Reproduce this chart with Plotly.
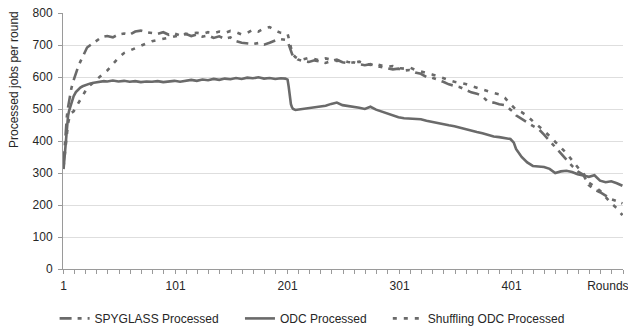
import plotly.graph_objects as go

# Round numbers at which each series was recorded
rounds = [1, 2, 3, 4, 5, 6, 7, 8, 10, 12, 14, 16, 18, 20, 22, 25, 28, 31, 34, 37, 40,
          45, 50, 55, 60, 65, 70, 75, 80, 85, 90, 95, 100, 105, 110, 115, 120, 125, 130,
          135, 140, 145, 150, 155, 160, 165, 170, 175, 180, 185, 190, 195, 199, 201, 202,
          203, 204, 205, 206, 208, 210, 215, 220, 225, 230, 235, 240, 245, 250, 255, 260,
          265, 270, 275, 280, 285, 290, 295, 300, 305, 310, 315, 320, 325, 330, 335, 340,
          345, 350, 355, 360, 365, 370, 375, 380, 385, 390, 395, 400, 403, 405, 410, 415,
          420, 425, 430, 435, 440, 445, 450, 455, 460, 465, 470, 475, 480, 485, 490, 495, 500]

spyglass = [330, 390, 440, 478, 505, 530, 550, 565, 590, 613, 632, 648, 662, 678, 692, 700, 708, 716, 722, 726, 728,
            724, 733, 736, 732, 742, 745, 740, 738, 735, 740, 732, 736, 730, 735, 728, 733, 726, 730,
            722, 727, 719, 724, 712, 707, 704, 703, 706, 701, 707, 714, 718, 716, 712, 700,
            690, 680, 672, 666, 660, 655, 650, 647, 652, 648, 644, 650, 654, 646, 643, 646,
            640, 637, 640, 634, 630, 628, 624, 626, 620, 622, 614, 610, 600, 598, 592, 585,
            577, 572, 568, 560, 552, 548, 540, 522, 520, 515, 512, 498, 490, 480, 468, 458,
            447, 438, 420, 400, 382, 360, 340, 322, 305, 295, 262, 248, 240, 228, 218, 212, 205]

odc = [312, 360, 410, 455, 478, 495, 507, 520, 540, 553, 561, 567, 571, 574, 577, 580, 582, 584, 585, 587, 586,
       589, 586, 588, 585, 587, 584, 586, 585, 587, 584, 586, 588, 585, 589, 591, 588, 592, 590,
       594, 591, 595, 593, 597, 594, 598, 596, 599, 595, 597, 594, 596, 595, 592, 570,
       540, 515, 505, 500, 497, 498, 500, 502, 505, 508, 510, 516, 520, 512, 510, 506,
       504, 500, 507, 498, 492, 486, 480, 474, 471, 470, 468, 468, 463, 459, 456, 452,
       449, 446, 441, 436, 432, 428, 424, 418, 414, 412, 410, 406, 395, 375, 350, 333,
       322, 320, 319, 313, 300, 305, 307, 303, 296, 292, 288, 293, 276, 271, 274, 268, 260]

shuffling = [320, 360, 400, 430, 455, 470, 480, 488, 493, 505, 520, 532, 545, 555, 565, 575, 585, 595, 603, 612, 620,
             640, 660, 675, 683, 690, 698, 705, 712, 716, 720, 724, 727, 730, 734, 736, 738, 735, 740,
             737, 742, 738, 744, 740, 733, 738, 748, 742, 752, 756, 745, 738, 737, 735, 722,
             705, 690, 678, 670, 662, 658, 655, 660, 656, 652, 658, 654, 650, 652, 647, 645,
             648, 642, 638, 640, 636, 632, 634, 628, 626, 630, 622, 618, 612, 608, 603, 596,
             590, 585, 582, 578, 572, 566, 560, 556, 550, 546, 535, 515, 505, 498, 490, 478,
             462, 448, 432, 415, 398, 380, 362, 340, 318, 300, 270, 258, 245, 225, 205, 190, 168]

x_tick_vals = [1, 101, 201, 301, 401, 487]
x_tick_text = ["1", "101", "201", "301", "401", "Rounds"]

LINE = "#6a6a6a"
TEXT = "#262626"
AXIS = "#9a9a9a"
GRID = "#dedede"
FONT = "Liberation Sans, Arial, sans-serif"

fig = go.Figure()
fig.add_trace(go.Scatter(x=rounds, y=spyglass, mode="lines", name="SPYGLASS Processed",
                         line=dict(color=LINE, width=2.6, dash="12px,6px,4px,6px"),
                         legend="legend"))
fig.add_trace(go.Scatter(x=rounds, y=odc, mode="lines", name="ODC Processed",
                         line=dict(color=LINE, width=2.6), legend="legend2"))
fig.add_trace(go.Scatter(x=rounds, y=shuffling, mode="lines", name="Shuffling ODC Processed",
                         line=dict(color=LINE, width=2.6, dash="4px,7px"), legend="legend3"))

legend_common = dict(orientation="h", yanchor="middle", y=-0.193, xanchor="left",
                     font=dict(family=FONT, size=12, color=TEXT), bgcolor="rgba(0,0,0,0)",
                     borderwidth=0, itemwidth=30)

fig.update_layout(
    width=628, height=332,
    margin=dict(l=63.3, r=5, t=12.7, b=63.3, autoexpand=False),
    paper_bgcolor="white", plot_bgcolor="white",
    font=dict(family=FONT, size=12, color=TEXT),
    showlegend=True,
    legend=dict(legend_common, x=-0.015),
    legend2=dict(legend_common, x=0.316),
    legend3=dict(legend_common, x=0.58),
    xaxis=dict(range=[0.5, 500.5], tickmode="array", tickvals=x_tick_vals, ticktext=x_tick_text,
               ticks="", showgrid=False, zeroline=False, showline=True, linecolor=AXIS, linewidth=1,
               tickfont=dict(family=FONT, size=12, color=TEXT), ticklabelstandoff=6,
               ticklabeloverflow="allow",
               minor=dict(ticks="outside", ticklen=4, tickcolor=AXIS, tickmode="linear",
                          tick0=0.5, dtick=10, showgrid=False)),
    yaxis=dict(range=[0, 800], dtick=100, tick0=0, showgrid=True, gridcolor=GRID, gridwidth=1,
               zeroline=False, showline=True, linecolor=AXIS, linewidth=1,
               ticks="outside", ticklen=4, tickcolor=AXIS, ticklabelstandoff=3,
               tickfont=dict(family=FONT, size=12, color=TEXT)),
)

# axis title sits in the upper part of the left margin
plot_w = 628 - 63.3 - 5
plot_h = 332 - 12.7 - 63.3
fig.add_annotation(text="Processed jobs per round", textangle=-90,
                   x=(15 - 63.3) / plot_w, y=(268.7 - 79) / plot_h,
                   xref="paper", yref="paper", xanchor="center", yanchor="middle",
                   showarrow=False, font=dict(family=FONT, size=12, color=TEXT))

fig.write_html("out.html")
